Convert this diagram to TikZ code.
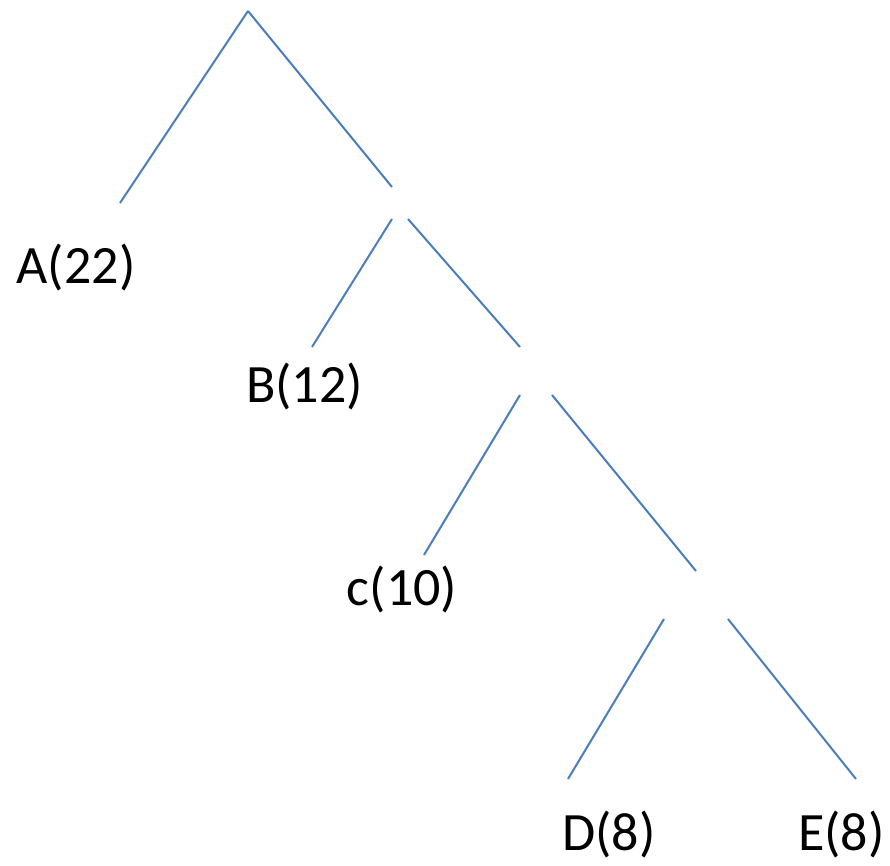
\documentclass[tikz,border=0pt]{standalone}
\usepackage{fontspec}
\setmainfont{Carlito}
\definecolor{edgeblue}{RGB}{74,126,187}
\tikzset{
  edge/.style={draw=edgeblue, line width=1pt},
  leaf/.style={inner sep=0pt, anchor=base, font=\fontsize{27}{31}\selectfont, text=black}
}
\begin{document}
\begin{tikzpicture}[x=0.5pt,y=-0.5pt]
\useasboundingbox (0,0) rectangle (890,866);
% free segment endpoints
\coordinate (r) at (248,11);
\coordinate (a1) at (120,203);
\coordinate (r2) at (392,187);
\coordinate (b0) at (392,219);
\coordinate (b1) at (312,347);
\coordinate (s0) at (408,219);
\coordinate (s1) at (520,347);
\coordinate (c0) at (520,395);
\coordinate (c1) at (424,555);
\coordinate (t0) at (552,395);
\coordinate (t1) at (696,571);
\coordinate (d0) at (664,619);
\coordinate (d1) at (568,779);
\coordinate (e0) at (728,619);
\coordinate (e1) at (856,779);
% labels
\node[leaf] (A) at (76,284) {A(22)};
\node[leaf] (B) at (304.5,403) {B(12)};
\node[leaf] (C) at (402,605) {c(10)};
\node[leaf] (D) at (609,850) {D(8)};
\node[leaf] (E) at (841.5,850) {E(8)};
% edges
\draw[edge] (r) -- (a1);
\draw[edge] (r) -- (r2);
\draw[edge] (b0) -- (b1);
\draw[edge] (s0) -- (s1);
\draw[edge] (c0) -- (c1);
\draw[edge] (t0) -- (t1);
\draw[edge] (d0) -- (d1);
\draw[edge] (e0) -- (e1);
\end{tikzpicture}
\end{document}
